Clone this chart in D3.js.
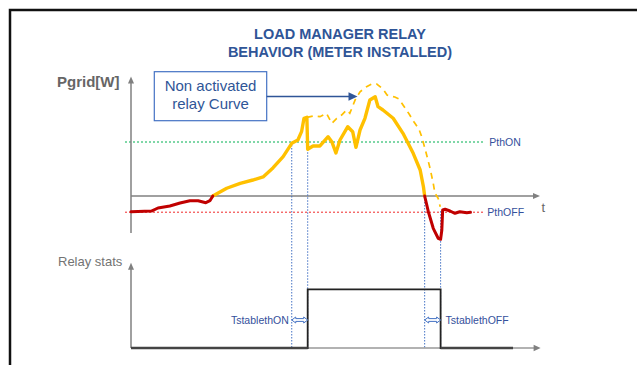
<!DOCTYPE html>
<html>
<head>
<meta charset="utf-8">
<script src="https://cdn.jsdelivr.net/npm/d3@7"></script>
<style>
  html, body { margin: 0; padding: 0; background: #fff; }
  svg { display: block; }
  text { font-family: "Liberation Sans", Arial, sans-serif; }
</style>
</head>
<body>
<svg id="chart" width="637" height="365"></svg>
<script>
// ---- data: time in s, grid power in W ----
const PTH_ON = 1000;
const PTH_OFF = -300;

// grid power while the relay is still open (export side, before crossing 0)
const gridBefore = [[0,-290],[5,-280],[6.6,-222],[9.5,-185],[12,-130],[14.4,-87],[16.4,-87],[18.3,-124],[19.3,-87],[20,0]];

// grid power with the relay acting (solid curve)
const gridActive = [[20,0],[23.4,143],[26.7,235],[29.8,296],[32.3,352],[34.7,519],[37.2,728],[39.3,976],[40.8,1037],
  [41.7,1191],[42.3,1439],[43.0,1457],[43.2,865],[44.5,926],[46.2,926],[48.2,1098],[49.1,1006],[50.1,796],[51.1,1037],
  [53.0,1283],[54.2,1191],[55.0,902],[56.0,1222],[57.2,1439],[58.4,1778],[59.7,1839],[60.4,1654],[61.6,1593],
  [64.1,1439],[66.5,1161],[69.0,791],[70.7,481],[71.5,172],[71.8,0]];

// grid power if the relay had not been activated (dashed curve)
const gridNonActivated = [[43.0,1457],[44.5,1481],[46.2,1469],[47.8,1531],[49.1,1346],[50.3,1439],[51.5,1500],
  [52.7,1593],[53.5,1531],[54.8,1778],[56.0,1931],[57.6,2024],[58.9,2074],[60.1,2074],[61.6,1981],[62.6,1870],
  [64.5,1833],[65.5,1796],[67.0,1630],[68.0,1519],[69.2,1370],[70.4,1241],[71.1,1093],[72.1,815],[73.1,519],
  [73.9,235],[74.3,56],[75.1,-43],[75.6,-198]];

// grid power after the relay opened again
const gridAfter = [[71.8,0],[72.7,-291],[73.9,-598],[75.1,-783],[75.7,-802],[76.0,-630],[76.2,-259],[76.8,-246],
  [78.0,-278],[79.2,-320],[80.4,-291],[82.1,-309],[83.0,-302]];

// switching instants: [time, power where the guide starts]
const guideMarks = [[39.3,PTH_ON],[43.2,865],[71.8,0],[75.7,-280]];
// stabilisation windows: [from, to, label]
const stableWindows = [[39.3,43.2,"TstablethON"],[71.8,75.7,"TstablethOFF"]];
// relay state (0 = open, 1 = closed)
const relayState = [[0,0],[43.2,0],[43.2,1],[75.7,1],[75.7,0],[93.4,0]];

const thresholdLines = [[PTH_ON,"PthON","#00b050"],[PTH_OFF,"PthOFF","#f02828"]];

// ---- layout ----
const svg = d3.select("#chart");
const BLUE_TXT = "#2f5597";
const LABEL_BLUE = "#34509c";
const AXIS = "#808080";

const x = d3.scaleLinear().domain([0, 100]).range([131, 540]);
const y = d3.scaleLinear().domain([0, PTH_ON]).range([196, 142]);
const yRelay = d3.scaleLinear().domain([0, 1]).range([348, 289.3]);

// frame
svg.append("rect").attr("x", 10).attr("y", 10).attr("width", 700).attr("height", 400)
  .attr("fill", "none").attr("stroke", "#111").attr("stroke-width", 2.5);

// title
const title = svg.append("text").attr("text-anchor", "middle").attr("fill", BLUE_TXT)
  .attr("font-weight", "bold").attr("font-size", 14.5);
title.append("tspan").attr("x", 340).attr("y", 39.3).text("LOAD MANAGER RELAY");
title.append("tspan").attr("x", 340).attr("y", 56.5).text("BEHAVIOR (METER INSTALLED)");

// arrowhead helper: tip at (tx,ty), pointing in direction (dx,dy)
function arrowHead(tx, ty, dx, dy, len, half, color) {
  const px = -dy, py = dx;
  const bx = tx - dx * len, by = ty - dy * len;
  svg.append("path")
    .attr("d", `M${tx},${ty}L${bx + px * half},${by + py * half}L${bx - px * half},${by - py * half}Z`)
    .attr("fill", color);
}

// ---- upper panel: grid power ----
// threshold lines
thresholdLines.forEach(([v, label, col]) => {
  svg.append("line").attr("x1", 125).attr("x2", 485).attr("y1", y(v)).attr("y2", y(v))
    .attr("stroke", col).attr("stroke-width", 1).attr("stroke-dasharray", "2,2");
  svg.append("text").attr("x", label === "PthON" ? 489.3 : 487.3).attr("y", y(v) + 3.8)
    .attr("font-size", 10.5).attr("fill", LABEL_BLUE).text(label);
});

// axes
svg.append("line").attr("x1", x(0)).attr("x2", x(0)).attr("y1", 233).attr("y2", 82)
  .attr("stroke", AXIS).attr("stroke-width", 1.5);
arrowHead(x(0), 76.5, 0, -1, 7, 3, AXIS);
svg.append("line").attr("x1", x(0)).attr("x2", x(100) - 5).attr("y1", y(0)).attr("y2", y(0))
  .attr("stroke", AXIS).attr("stroke-width", 1.5);
arrowHead(x(100), y(0), 1, 0, 7, 3, AXIS);

svg.append("text").attr("x", 57).attr("y", 86.5).attr("font-size", 15).attr("font-weight", "bold")
  .attr("fill", "#666").text("Pgrid[W]");
svg.append("text").attr("x", 541.5).attr("y", 211.5).attr("font-size", 13).attr("fill", "#666").text("t");

// guide lines down to the relay panel
guideMarks.forEach(([t, p]) => {
  svg.append("line").attr("x1", x(t)).attr("x2", x(t)).attr("y1", y(p)).attr("y2", yRelay(0))
    .attr("stroke", "#4472c4").attr("stroke-width", 1).attr("stroke-dasharray", "1.5,1.5");
});

const line = d3.line().x(d => x(d[0])).y(d => y(d[1])).curve(d3.curveLinear);

svg.append("path").datum(gridNonActivated).attr("d", line).attr("fill", "none")
  .attr("stroke", "#ffc000").attr("stroke-width", 1.7).attr("stroke-dasharray", "6,5");
svg.append("path").datum(gridActive).attr("d", line).attr("fill", "none")
  .attr("stroke", "#ffc000").attr("stroke-width", 3.4).attr("stroke-linejoin", "round").attr("stroke-linecap", "round");
[gridBefore, gridAfter].forEach(seg => {
  svg.append("path").datum(seg).attr("d", line).attr("fill", "none")
    .attr("stroke", "#c00000").attr("stroke-width", 3).attr("stroke-linejoin", "round").attr("stroke-linecap", "round");
});

// callout box
svg.append("rect").attr("x", 154.3).attr("y", 71.7).attr("width", 112.4).attr("height", 49)
  .attr("fill", "#fff").attr("stroke", "#4472c4").attr("stroke-width", 1.2);
const callout = svg.append("text").attr("text-anchor", "middle").attr("font-size", 15).attr("fill", BLUE_TXT);
callout.append("tspan").attr("x", 210.5).attr("y", 91.3).text("Non activated");
callout.append("tspan").attr("x", 210.5).attr("y", 109).text("relay Curve");
svg.append("line").attr("x1", 266.7).attr("x2", 349).attr("y1", 96.5).attr("y2", 96.5)
  .attr("stroke", BLUE_TXT).attr("stroke-width", 1.3);
arrowHead(357.5, 96.5, 1, 0, 9, 4.2, BLUE_TXT);

// ---- lower panel: relay state ----
svg.append("line").attr("x1", x(0)).attr("x2", x(0)).attr("y1", yRelay(0)).attr("y2", 268)
  .attr("stroke", AXIS).attr("stroke-width", 1.5);
arrowHead(x(0), 262.7, 0, -1, 7, 3, AXIS);
svg.append("line").attr("x1", x(0)).attr("x2", x(100) - 4).attr("y1", yRelay(0)).attr("y2", yRelay(0))
  .attr("stroke", "#999").attr("stroke-width", 1.5);
arrowHead(x(100) + 0.6, yRelay(0), 1, 0, 7, 3.2, AXIS);

const relayLine = d3.line().x(d => x(d[0])).y(d => yRelay(d[1]));
svg.append("path").datum(relayState).attr("d", relayLine).attr("fill", "none")
  .attr("stroke", "#222").attr("stroke-width", 1.8);
// low level drawn heavier on top of the axis
[[relayState[0], relayState[1]], [relayState[4], relayState[5]]].forEach(seg => {
  svg.append("path").datum(seg).attr("d", relayLine).attr("fill", "none")
    .attr("stroke", "#444").attr("stroke-width", 2.5);
});

svg.append("text").attr("x", 58).attr("y", 265.5).attr("font-size", 13).attr("fill", "#737373").text("Relay stats");

// stabilisation windows: hollow double arrows with labels
stableWindows.forEach(([t0, t1, label]) => {
  const a = x(t0), b = x(t1), cy = 320, h = 3, s = 1.4, k = 4;
  svg.append("path")
    .attr("d", `M${a},${cy}L${a + k},${cy - h}L${a + k},${cy - s}L${b - k},${cy - s}L${b - k},${cy - h}L${b},${cy}` +
               `L${b - k},${cy + h}L${b - k},${cy + s}L${a + k},${cy + s}L${a + k},${cy + h}Z`)
    .attr("fill", "#fff").attr("stroke", "#4472c4").attr("stroke-width", 1);
  const txt = svg.append("text").attr("y", 324).attr("font-size", 10.5).attr("fill", LABEL_BLUE).text(label);
  if (label === "TstablethON") txt.attr("x", a - 3).attr("text-anchor", "end");
  else txt.attr("x", b + 5).attr("text-anchor", "start");
});
</script>
</body>
</html>
